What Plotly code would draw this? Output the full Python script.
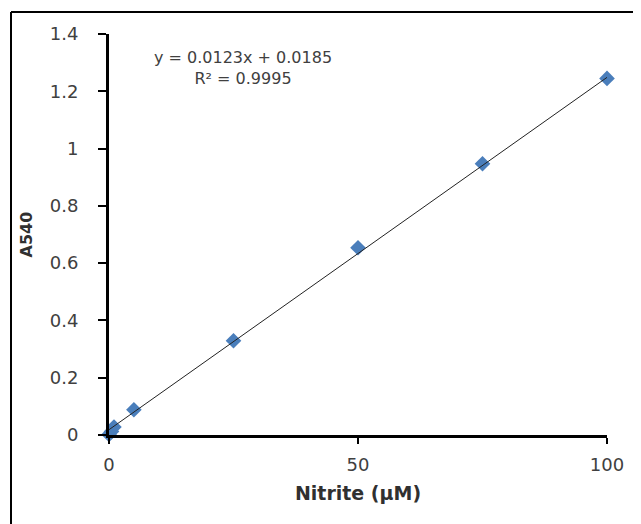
import plotly.graph_objects as go

nitrite = [0, 0.5, 1, 5, 25, 50, 75, 100]
a540 = [0.002, 0.012, 0.028, 0.088, 0.329, 0.654, 0.947, 1.245]
slope = 0.0123
intercept = 0.0185
fit_x = [0, 100]
fit_y = [intercept + slope * v for v in fit_x]
x_ticks = [0, 50, 100]
y_ticks = [0, 0.2, 0.4, 0.6, 0.8, 1.0, 1.2, 1.4]
y_labels = ["0", "0.2", "0.4", "0.6", "0.8", "1", "1.2", "1.4"]

font_family = "DejaVu Sans, Open Sans, sans-serif"
txt = "#404040"

# plot area in screen pixels (page has an 8px body margin)
PX0, PX1, PY0, PY1 = 109, 607, 34, 435
W, H = 633, 516

def px(sx):
    return (sx - PX0) / (PX1 - PX0)

def py(sy):
    return (PY1 - sy) / (PY1 - PY0)

fig = go.Figure()
fig.add_trace(go.Scatter(x=nitrite, y=a540, mode="markers",
                         marker=dict(symbol="diamond", size=12, color="#4a7ebb"),
                         cliponaxis=False, showlegend=False))
fig.add_trace(go.Scatter(x=fit_x, y=fit_y, mode="lines",
                         line=dict(color="#222222", width=1), cliponaxis=False, showlegend=False))

fig.update_layout(
    width=W, height=H,
    margin=dict(l=PX0 - 8, r=W - (PX1 - 8), t=PY0 - 8, b=H - (PY1 - 8)),
    paper_bgcolor="white", plot_bgcolor="white",
    font=dict(family=font_family, color=txt, size=18),
    xaxis=dict(range=[0, 100], tickvals=x_ticks, ticktext=[str(v) for v in x_ticks],
               showgrid=False, zeroline=False, showline=True, linecolor="black", linewidth=3,
               ticks="outside", ticklen=6, tickwidth=2, tickcolor="black",
               ticklabelstandoff=5, tickfont=dict(size=18, color=txt),
               title=dict(text="<b>Nitrite (µM)</b>", font=dict(size=19, color="#303030"), standoff=14)),
    yaxis=dict(range=[0, 1.4], tickvals=y_ticks, ticktext=y_labels,
               showgrid=False, zeroline=False, showline=True, linecolor="black", linewidth=3,
               ticks="outside", ticklen=8, tickwidth=2, tickcolor="black",
               ticklabelstandoff=16, tickfont=dict(size=18, color=txt),
               title=dict(text="<b>A540</b>", font=dict(size=16, color="#303030"), standoff=14)),
    annotations=[
        dict(text="y = 0.0123x + 0.0185<br>R² = 0.9995", xref="paper", yref="paper",
             x=px(243), y=py(68), xanchor="center", yanchor="middle", align="center",
             showarrow=False, font=dict(size=16, color=txt)),
    ],
    shapes=[
        dict(type="line", xref="paper", yref="paper",
             x0=px(11), x1=px(700), y0=py(12), y1=py(12),
             line=dict(color="black", width=2)),
        dict(type="line", xref="paper", yref="paper",
             x0=px(11), x1=px(11), y0=py(12), y1=py(600),
             line=dict(color="black", width=2)),
    ],
)

fig.write_html("out.html")
